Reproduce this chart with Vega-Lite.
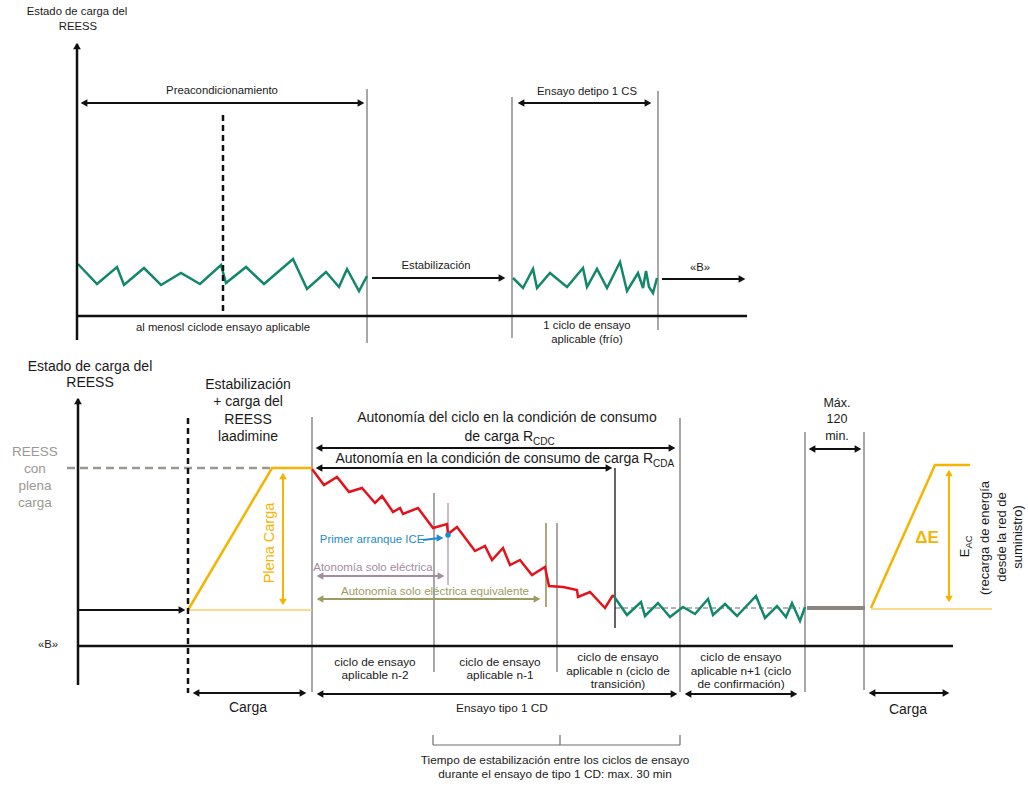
{
"$schema": "https://vega.github.io/schema/vega-lite/v6.json",
"width": 1028, "height": 787, "autosize": {"type": "none"}, "padding": 0,
"background": "white",
"config": {"view": {"stroke": null}, "text": {"font": "Liberation Sans", "baseline": "middle"}},
"datasets": {
"seg": [
{"x":77,"y":44,"x2":77,"y2":340,"k":"ax"},
{"x":77,"y":316,"x2":747,"y2":316,"k":"ax"},
{"x":78,"y":399,"x2":78,"y2":685,"k":"ax"},
{"x":78,"y":646,"x2":953,"y2":646,"k":"ax"},
{"x":84,"y":103,"x2":361,"y2":103,"k":"ar"},
{"x":521,"y":103,"x2":648,"y2":103,"k":"ar"},
{"x":372,"y":278,"x2":502,"y2":278,"k":"ar"},
{"x":662,"y":279,"x2":742,"y2":279,"k":"ar"},
{"x":78,"y":610,"x2":182,"y2":610,"k":"ar"},
{"x":319,"y":448,"x2":672,"y2":448,"k":"ar"},
{"x":319,"y":468,"x2":609,"y2":468,"k":"ar"},
{"x":196,"y":693,"x2":303,"y2":693,"k":"ar"},
{"x":320,"y":694,"x2":674,"y2":694,"k":"ar"},
{"x":688,"y":694,"x2":794,"y2":694,"k":"ar"},
{"x":812,"y":449,"x2":858,"y2":449,"k":"ar"},
{"x":872,"y":693,"x2":946,"y2":693,"k":"ar"},
{"x":223,"y":115,"x2":223,"y2":316,"k":"db"},
{"x":188,"y":418,"x2":188,"y2":693,"k":"db"},
{"x":367,"y":89,"x2":367,"y2":343,"k":"th"},
{"x":512,"y":97,"x2":512,"y2":338,"k":"th"},
{"x":658,"y":91,"x2":658,"y2":330,"k":"th"},
{"x":312,"y":417,"x2":312,"y2":692,"k":"th"},
{"x":434,"y":493,"x2":434,"y2":672,"k":"th"},
{"x":557,"y":523,"x2":557,"y2":672,"k":"th"},
{"x":680,"y":418,"x2":680,"y2":692,"k":"th"},
{"x":805,"y":432,"x2":805,"y2":692,"k":"th"},
{"x":864,"y":432,"x2":864,"y2":690,"k":"th"},
{"x":433,"y":735,"x2":433,"y2":745,"k":"th"},
{"x":433,"y":745,"x2":680,"y2":745,"k":"th"},
{"x":560,"y":735,"x2":560,"y2":745,"k":"th"},
{"x":680,"y":735,"x2":680,"y2":745,"k":"th"},
{"x":615,"y":468,"x2":615,"y2":628,"k":"bk"},
{"x":448,"y":503,"x2":448,"y2":585,"k":"mv"},
{"x":546,"y":523,"x2":546,"y2":607,"k":"ol"},
{"x":67,"y":468,"x2":272,"y2":468,"k":"gd"},
{"x":615,"y":608,"x2":800,"y2":608,"k":"gdt"},
{"x":807,"y":608,"x2":865,"y2":608,"k":"gt"},
{"x":188,"y":610,"x2":312,"y2":610,"k":"yt"},
{"x":871,"y":609,"x2":992,"y2":609,"k":"yt"},
{"x":283,"y":476,"x2":283,"y2":602,"k":"ya"},
{"x":949,"y":473,"x2":949,"y2":599,"k":"ya"},
{"x":320,"y":576,"x2":441,"y2":576,"k":"ma"},
{"x":320,"y":599,"x2":537,"y2":599,"k":"oa"},
{"x":423,"y":540,"x2":440,"y2":538,"k":"ba"}
],
"ln": [
{"s":"g1","o":1,"x":78,"y":264},{"s":"g1","o":2,"x":97,"y":284},{"s":"g1","o":3,"x":117,"y":267},{"s":"g1","o":4,"x":124,"y":285},{"s":"g1","o":5,"x":144,"y":268},{"s":"g1","o":6,"x":161,"y":285},{"s":"g1","o":7,"x":181,"y":273},{"s":"g1","o":8,"x":200,"y":284},{"s":"g1","o":9,"x":221,"y":265},{"s":"g1","o":10,"x":226,"y":283},{"s":"g1","o":11,"x":246,"y":267},{"s":"g1","o":12,"x":264,"y":284},{"s":"g1","o":13,"x":293,"y":259},{"s":"g1","o":14,"x":307,"y":289},{"s":"g1","o":15,"x":326,"y":272},{"s":"g1","o":16,"x":339,"y":287},{"s":"g1","o":17,"x":347,"y":269},{"s":"g1","o":18,"x":359,"y":291},{"s":"g1","o":19,"x":367,"y":276},
{"s":"g2","o":1,"x":513,"y":278},{"s":"g2","o":2,"x":523,"y":288},{"s":"g2","o":3,"x":533,"y":269},{"s":"g2","o":4,"x":537,"y":288},{"s":"g2","o":5,"x":550,"y":273},{"s":"g2","o":6,"x":567,"y":287},{"s":"g2","o":7,"x":583,"y":268},{"s":"g2","o":8,"x":587,"y":287},{"s":"g2","o":9,"x":597,"y":269},{"s":"g2","o":10,"x":607,"y":288},{"s":"g2","o":11,"x":620,"y":262},{"s":"g2","o":12,"x":627,"y":291},{"s":"g2","o":13,"x":638,"y":273},{"s":"g2","o":14,"x":643,"y":288},{"s":"g2","o":15,"x":646,"y":271},{"s":"g2","o":16,"x":649,"y":287},{"s":"g2","o":17,"x":653,"y":293},{"s":"g2","o":18,"x":657,"y":278},
{"s":"r","o":1,"x":312,"y":469},{"s":"r","o":2,"x":324,"y":485},{"s":"r","o":3,"x":337,"y":477},{"s":"r","o":4,"x":349,"y":492},{"s":"r","o":5,"x":362,"y":488},{"s":"r","o":6,"x":375,"y":503},{"s":"r","o":7,"x":382,"y":496},{"s":"r","o":8,"x":393,"y":512},{"s":"r","o":9,"x":400,"y":508},{"s":"r","o":10,"x":403,"y":514},{"s":"r","o":11,"x":418,"y":508},{"s":"r","o":12,"x":433,"y":528},{"s":"r","o":13,"x":447,"y":524},{"s":"r","o":14,"x":448,"y":534},{"s":"r","o":15,"x":457,"y":527},{"s":"r","o":16,"x":475,"y":551},{"s":"r","o":17,"x":485,"y":546},{"s":"r","o":18,"x":492,"y":560},{"s":"r","o":19,"x":503,"y":548},{"s":"r","o":20,"x":510,"y":565},{"s":"r","o":21,"x":520,"y":560},{"s":"r","o":22,"x":532,"y":575},{"s":"r","o":23,"x":545,"y":567},{"s":"r","o":24,"x":549,"y":586},{"s":"r","o":25,"x":563,"y":587},{"s":"r","o":26,"x":577,"y":590},{"s":"r","o":27,"x":578,"y":597},{"s":"r","o":28,"x":590,"y":592},{"s":"r","o":29,"x":605,"y":608},{"s":"r","o":30,"x":613,"y":595},
{"s":"g3","o":1,"x":613,"y":595},{"s":"g3","o":2,"x":627,"y":615},{"s":"g3","o":3,"x":641,"y":602},{"s":"g3","o":4,"x":645,"y":616},{"s":"g3","o":5,"x":658,"y":603},{"s":"g3","o":6,"x":670,"y":617},{"s":"g3","o":7,"x":683,"y":607},{"s":"g3","o":8,"x":695,"y":614},{"s":"g3","o":9,"x":708,"y":599},{"s":"g3","o":10,"x":713,"y":615},{"s":"g3","o":11,"x":725,"y":604},{"s":"g3","o":12,"x":737,"y":616},{"s":"g3","o":13,"x":756,"y":596},{"s":"g3","o":14,"x":765,"y":618},{"s":"g3","o":15,"x":777,"y":606},{"s":"g3","o":16,"x":786,"y":617},{"s":"g3","o":17,"x":792,"y":603},{"s":"g3","o":18,"x":800,"y":621},{"s":"g3","o":19,"x":805,"y":607},
{"s":"y1","o":1,"x":188,"y":610},{"s":"y1","o":2,"x":272,"y":468},{"s":"y1","o":3,"x":312,"y":468},
{"s":"y2","o":1,"x":871,"y":608},{"s":"y2","o":2,"x":935,"y":465},{"s":"y2","o":3,"x":970,"y":465}
],
"hd": [
{"x":77,"y":46,"d":"up","k":"b"},
{"x":84,"y":103,"d":"left","k":"b"},{"x":361,"y":103,"d":"right","k":"b"},
{"x":521,"y":103,"d":"left","k":"b"},{"x":648,"y":103,"d":"right","k":"b"},
{"x":502,"y":278,"d":"right","k":"b"},
{"x":742,"y":279,"d":"right","k":"b"},
{"x":78,"y":401,"d":"up","k":"b"},
{"x":182,"y":610,"d":"right","k":"b"},
{"x":319,"y":448,"d":"left","k":"b"},{"x":672,"y":448,"d":"right","k":"b"},
{"x":319,"y":468,"d":"left","k":"b"},{"x":609,"y":468,"d":"right","k":"b"},
{"x":196,"y":693,"d":"left","k":"b"},{"x":303,"y":693,"d":"right","k":"b"},
{"x":320,"y":694,"d":"left","k":"b"},{"x":674,"y":694,"d":"right","k":"b"},
{"x":688,"y":694,"d":"left","k":"b"},{"x":794,"y":694,"d":"right","k":"b"},
{"x":812,"y":449,"d":"left","k":"b"},{"x":858,"y":449,"d":"right","k":"b"},
{"x":872,"y":693,"d":"left","k":"b"},{"x":946,"y":693,"d":"right","k":"b"},
{"x":283,"y":476,"d":"up","k":"y"},{"x":283,"y":602,"d":"down","k":"y"},
{"x":949,"y":473,"d":"up","k":"y"},{"x":949,"y":599,"d":"down","k":"y"},
{"x":320,"y":576,"d":"left","k":"m"},{"x":441,"y":576,"d":"right","k":"m"},
{"x":320,"y":599,"d":"left","k":"o"},{"x":537,"y":599,"d":"right","k":"o"},
{"x":440,"y":538,"d":"right","k":"bl"}
],
"tx": [
{"x":77,"y":12,"t":"Estado de carga del","k":"s"},
{"x":78,"y":27,"t":"REESS","k":"s"},
{"x":222,"y":91,"t":"Preacondicionamiento","k":"s"},
{"x":436,"y":266,"t":"Estabilización","k":"s"},
{"x":587,"y":92,"t":"Ensayo detipo 1 CS","k":"s"},
{"x":700,"y":268,"t":"«B»","k":"s"},
{"x":223,"y":328,"t":"al menosl ciclode ensayo aplicable","k":"s"},
{"x":587,"y":326,"t":"1 ciclo de ensayo","k":"s"},
{"x":587,"y":340,"t":"aplicable (frío)","k":"s"},
{"x":48,"y":645,"t":"«B»","k":"s"},
{"x":375,"y":662,"t":"ciclo de ensayo","k":"s2"},
{"x":375,"y":675,"t":"aplicable n-2","k":"s2"},
{"x":500,"y":662,"t":"ciclo de ensayo","k":"s2"},
{"x":500,"y":675,"t":"aplicable n-1","k":"s2"},
{"x":618,"y":657,"t":"ciclo de ensayo","k":"s2"},
{"x":618,"y":671,"t":"aplicable n (ciclo de","k":"s2"},
{"x":618,"y":684,"t":"transición)","k":"s2"},
{"x":741,"y":657,"t":"ciclo de ensayo","k":"s2"},
{"x":741,"y":671,"t":"aplicable n+1 (ciclo","k":"s2"},
{"x":741,"y":684,"t":"de confirmación)","k":"s2"},
{"x":502,"y":708,"t":"Ensayo tipo 1 CD","k":"s2"},
{"x":555,"y":760,"t":"Tiempo de estabilización entre los ciclos de ensayo","k":"s2"},
{"x":555,"y":774,"t":"durante el ensayo de tipo 1 CD: max. 30 min","k":"s2"},
{"x":90,"y":367,"t":"Estado de carga del","k":"m"},
{"x":90,"y":383,"t":"REESS","k":"m"},
{"x":248,"y":385,"t":"Estabilización","k":"m"},
{"x":248,"y":402,"t":"+ carga del","k":"m"},
{"x":248,"y":420,"t":"REESS","k":"m"},
{"x":248,"y":437,"t":"laadimine","k":"m"},
{"x":248,"y":708,"t":"Carga","k":"m"},
{"x":908,"y":710,"t":"Carga","k":"m"},
{"x":507,"y":418,"t":"Autonomía del ciclo en la condición de consumo","k":"m"},
{"x":533,"y":437,"t":"de carga R","k":"rr"},
{"x":533,"y":442,"t":"CDC","k":"sub"},
{"x":653,"y":459,"t":"Autonomía en la condición de consumo de carga R","k":"rr"},
{"x":653,"y":464,"t":"CDA","k":"sub"},
{"x":837,"y":403,"t":"Máx.","k":"mx"},
{"x":837,"y":419,"t":"120","k":"mx"},
{"x":837,"y":436,"t":"min.","k":"mx"},
{"x":35,"y":452,"t":"REESS","k":"g"},
{"x":35,"y":469,"t":"con","k":"g"},
{"x":35,"y":486,"t":"plena","k":"g"},
{"x":35,"y":503,"t":"carga","k":"g"},
{"x":270,"y":543,"t":"Plena Carga","k":"py"},
{"x":927,"y":538,"t":"ΔE","k":"de"},
{"x":965,"y":553,"t":"E","k":"rot"},
{"x":969,"y":542,"t":"AC","k":"rotsub"},
{"x":985,"y":538,"t":"(recarga de energía","k":"rot"},
{"x":1002,"y":537,"t":"desde la red de","k":"rot"},
{"x":1018,"y":537,"t":"suministro)","k":"rot"},
{"x":372,"y":540,"t":"Primer arranque ICE","k":"bl"},
{"x":373,"y":568,"t":"Atonomía solo eléctrica","k":"mv"},
{"x":435,"y":592,"t":"Autonomía solo eléctrica equivalente","k":"ol"}
]
},
"encoding": {
"x": {"field": "x", "type": "quantitative", "scale": {"domain": [0, 1028], "nice": false, "zero": false}, "axis": null},
"y": {"field": "y", "type": "quantitative", "scale": {"domain": [0, 787], "nice": false, "zero": false, "reverse": true}, "axis": null}
},
"layer": [
{"data": {"name": "seg"}, "transform": [{"filter": "datum.k=='gd'"}], "mark": {"type": "rule", "color": "#9b9793", "strokeWidth": 2.5, "strokeDash": [8, 5]}, "encoding": {"x2": {"field": "x2"}, "y2": {"field": "y2"}}},
{"data": {"name": "seg"}, "transform": [{"filter": "datum.k=='gdt'"}], "mark": {"type": "rule", "color": "#666666", "strokeWidth": 1, "strokeDash": [5, 3]}, "encoding": {"x2": {"field": "x2"}, "y2": {"field": "y2"}}},
{"data": {"name": "seg"}, "transform": [{"filter": "datum.k=='th'"}], "mark": {"type": "rule", "color": "#6d6d6d", "strokeWidth": 1.2}, "encoding": {"x2": {"field": "x2"}, "y2": {"field": "y2"}}},
{"data": {"name": "seg"}, "transform": [{"filter": "datum.k=='bk'"}], "mark": {"type": "rule", "color": "#111111", "strokeWidth": 1.3}, "encoding": {"x2": {"field": "x2"}, "y2": {"field": "y2"}}},
{"data": {"name": "seg"}, "transform": [{"filter": "datum.k=='mv'"}], "mark": {"type": "rule", "color": "#bba5b7", "strokeWidth": 1.5}, "encoding": {"x2": {"field": "x2"}, "y2": {"field": "y2"}}},
{"data": {"name": "seg"}, "transform": [{"filter": "datum.k=='ol'"}], "mark": {"type": "rule", "color": "#aaa978", "strokeWidth": 2}, "encoding": {"x2": {"field": "x2"}, "y2": {"field": "y2"}}},
{"data": {"name": "seg"}, "transform": [{"filter": "datum.k=='gt'"}], "mark": {"type": "rule", "color": "#8b8681", "strokeWidth": 4}, "encoding": {"x2": {"field": "x2"}, "y2": {"field": "y2"}}},
{"data": {"name": "seg"}, "transform": [{"filter": "datum.k=='yt'"}], "mark": {"type": "rule", "color": "#f9cf6a", "strokeWidth": 1.5}, "encoding": {"x2": {"field": "x2"}, "y2": {"field": "y2"}}},
{"data": {"name": "seg"}, "transform": [{"filter": "datum.k=='ya'"}], "mark": {"type": "rule", "color": "#f5b400", "strokeWidth": 2}, "encoding": {"x2": {"field": "x2"}, "y2": {"field": "y2"}}},
{"data": {"name": "seg"}, "transform": [{"filter": "datum.k=='ma'"}], "mark": {"type": "rule", "color": "#a38c9f", "strokeWidth": 2}, "encoding": {"x2": {"field": "x2"}, "y2": {"field": "y2"}}},
{"data": {"name": "seg"}, "transform": [{"filter": "datum.k=='oa'"}], "mark": {"type": "rule", "color": "#9c9b62", "strokeWidth": 2}, "encoding": {"x2": {"field": "x2"}, "y2": {"field": "y2"}}},
{"data": {"name": "seg"}, "transform": [{"filter": "datum.k=='ba'"}], "mark": {"type": "rule", "color": "#1b8ccb", "strokeWidth": 2}, "encoding": {"x2": {"field": "x2"}, "y2": {"field": "y2"}}},
{"data": {"name": "ln"}, "transform": [{"filter": "datum.s=='g1' || datum.s=='g2' || datum.s=='g3'"}], "mark": {"type": "line", "color": "#13876b", "strokeWidth": 2.5, "strokeJoin": "miter"}, "encoding": {"detail": {"field": "s"}, "order": {"field": "o", "type": "quantitative"}}},
{"data": {"name": "ln"}, "transform": [{"filter": "datum.s=='r'"}], "mark": {"type": "line", "color": "#e3121b", "strokeWidth": 2.5, "strokeJoin": "miter"}, "encoding": {"detail": {"field": "s"}, "order": {"field": "o", "type": "quantitative"}}},
{"data": {"name": "ln"}, "transform": [{"filter": "datum.s=='y1' || datum.s=='y2'"}], "mark": {"type": "line", "color": "#f5b400", "strokeWidth": 2.5}, "encoding": {"detail": {"field": "s"}, "order": {"field": "o", "type": "quantitative"}}},
{"data": {"name": "seg"}, "transform": [{"filter": "datum.k=='ax'"}], "mark": {"type": "rule", "color": "#111111", "strokeWidth": 2.5}, "encoding": {"x2": {"field": "x2"}, "y2": {"field": "y2"}}},
{"data": {"name": "seg"}, "transform": [{"filter": "datum.k=='ar'"}], "mark": {"type": "rule", "color": "#111111", "strokeWidth": 2}, "encoding": {"x2": {"field": "x2"}, "y2": {"field": "y2"}}},
{"data": {"name": "seg"}, "transform": [{"filter": "datum.k=='db'"}], "mark": {"type": "rule", "color": "#111111", "strokeWidth": 2.5, "strokeDash": [6, 4]}, "encoding": {"x2": {"field": "x2"}, "y2": {"field": "y2"}}},
{"data": {"name": "hd"}, "mark": {"type": "point", "filled": true, "size": 60, "opacity": 1},
 "encoding": {
  "shape": {"field": "d", "type": "nominal", "scale": {"domain": ["up", "down", "left", "right"], "range": ["triangle-up", "triangle-down", "triangle-left", "triangle-right"]}, "legend": null},
  "color": {"field": "k", "type": "nominal", "scale": {"domain": ["b", "y", "m", "o", "bl"], "range": ["#111111", "#f5b400", "#a38c9f", "#9c9b62", "#1b8ccb"]}, "legend": null}
 }},
{"data": {"values": [{"x": 448, "y": 535}]}, "mark": {"type": "point", "filled": true, "size": 30, "color": "#1b8ccb", "opacity": 1}},
{"data": {"name": "tx"}, "transform": [{"filter": "datum.k=='s'"}], "mark": {"type": "text", "fontSize": 11.3, "color": "#1a1a1a"}, "encoding": {"text": {"field": "t"}}},
{"data": {"name": "tx"}, "transform": [{"filter": "datum.k=='s2'"}], "mark": {"type": "text", "fontSize": 11.8, "color": "#1a1a1a"}, "encoding": {"text": {"field": "t"}}},
{"data": {"name": "tx"}, "transform": [{"filter": "datum.k=='m'"}], "mark": {"type": "text", "fontSize": 14, "color": "#1a1a1a"}, "encoding": {"text": {"field": "t"}}},
{"data": {"name": "tx"}, "transform": [{"filter": "datum.k=='mx'"}], "mark": {"type": "text", "fontSize": 12.5, "color": "#1a1a1a"}, "encoding": {"text": {"field": "t"}}},
{"data": {"name": "tx"}, "transform": [{"filter": "datum.k=='rr'"}], "mark": {"type": "text", "fontSize": 14, "color": "#1a1a1a", "align": "right"}, "encoding": {"text": {"field": "t"}}},
{"data": {"name": "tx"}, "transform": [{"filter": "datum.k=='sub'"}], "mark": {"type": "text", "fontSize": 10, "color": "#1a1a1a", "align": "left"}, "encoding": {"text": {"field": "t"}}},
{"data": {"name": "tx"}, "transform": [{"filter": "datum.k=='g'"}], "mark": {"type": "text", "fontSize": 13.5, "color": "#9b9793"}, "encoding": {"text": {"field": "t"}}},
{"data": {"name": "tx"}, "transform": [{"filter": "datum.k=='py'"}], "mark": {"type": "text", "fontSize": 14.5, "color": "#f5b400", "angle": 270}, "encoding": {"text": {"field": "t"}}},
{"data": {"name": "tx"}, "transform": [{"filter": "datum.k=='de'"}], "mark": {"type": "text", "fontSize": 17, "fontWeight": "bold", "color": "#f5b400"}, "encoding": {"text": {"field": "t"}}},
{"data": {"name": "tx"}, "transform": [{"filter": "datum.k=='rot'"}], "mark": {"type": "text", "fontSize": 13, "color": "#1a1a1a", "angle": 270}, "encoding": {"text": {"field": "t"}}},
{"data": {"name": "tx"}, "transform": [{"filter": "datum.k=='rotsub'"}], "mark": {"type": "text", "fontSize": 9.5, "color": "#1a1a1a", "angle": 270}, "encoding": {"text": {"field": "t"}}},
{"data": {"name": "tx"}, "transform": [{"filter": "datum.k=='bl'"}], "mark": {"type": "text", "fontSize": 11.4, "color": "#1b8ccb"}, "encoding": {"text": {"field": "t"}}},
{"data": {"name": "tx"}, "transform": [{"filter": "datum.k=='mv'"}], "mark": {"type": "text", "fontSize": 11.5, "color": "#a38c9f"}, "encoding": {"text": {"field": "t"}}},
{"data": {"name": "tx"}, "transform": [{"filter": "datum.k=='ol'"}], "mark": {"type": "text", "fontSize": 11.5, "color": "#9c9b62"}, "encoding": {"text": {"field": "t"}}}
]
}
